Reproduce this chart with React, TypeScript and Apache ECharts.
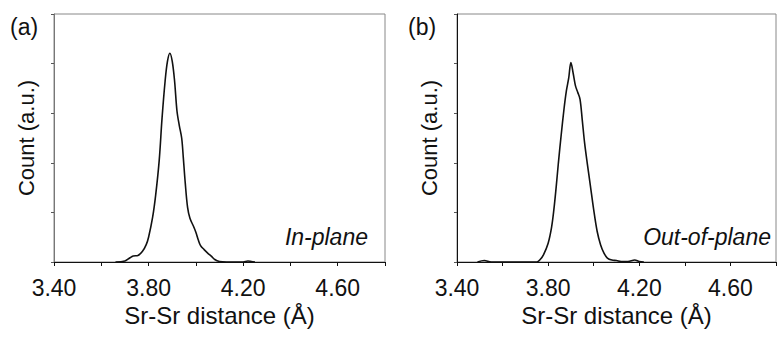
import React, { useEffect, useRef } from "react";
import * as echarts from "echarts";

// In-plane (a) distribution: Sr-Sr distance (Å) vs count (a.u.)
const inPlaneX = [3.66, 3.70, 3.72, 3.735, 3.755, 3.775, 3.79, 3.80, 3.817, 3.83, 3.845, 3.857, 3.87, 3.88, 3.89, 3.90, 3.91, 3.92, 3.93, 3.94, 3.947, 3.955, 3.965, 3.975, 3.99, 4.00, 4.01, 4.02, 4.035, 4.05, 4.065, 4.08, 4.10, 4.13, 4.20, 4.22, 4.235, 4.25];
const inPlaneY = [0, 0.02, 0.08, 0.12, 0.13, 0.22, 0.35, 0.5, 0.9, 1.35, 2.05, 2.9, 3.65, 4.05, 4.21, 4.05, 3.65, 3.05, 2.75, 2.5, 2.1, 1.6, 1.1, 0.88, 0.72, 0.6, 0.45, 0.33, 0.25, 0.18, 0.12, 0.05, 0.01, 0, 0, 0.02, 0.01, 0];

// Out-of-plane (b) distribution
const outPlaneX = [3.49, 3.52, 3.55, 3.75, 3.765, 3.78, 3.80, 3.815, 3.825, 3.835, 3.845, 3.857, 3.87, 3.88, 3.89, 3.90, 3.91, 3.92, 3.93, 3.94, 3.95, 3.96, 3.972, 3.985, 4.00, 4.015, 4.03, 4.045, 4.06, 4.08, 4.10, 4.12, 4.15, 4.18, 4.20, 4.22];
const outPlaneY = [0, 0.03, 0, 0, 0.05, 0.15, 0.38, 0.7, 1.05, 1.5, 2.0, 2.55, 3.1, 3.45, 3.7, 4.02, 3.8, 3.55, 3.42, 3.28, 2.85, 2.4, 1.98, 1.55, 1.05, 0.62, 0.35, 0.18, 0.08, 0.04, 0.03, 0.01, 0.01, 0.04, 0.01, 0];

const xTickLabels = ["3.40", "3.80", "4.20", "4.60"];
const panelLetters = ["(a)", "(b)"];
const panelNotes = ["In-plane", "Out-of-plane"];
const xTitle = "Sr-Sr distance (Å)";
const yTitle = "Count (a.u.)";

const FONT = "'Liberation Sans', Arial, sans-serif";

export default function App() {
  const ref = useRef<HTMLDivElement>(null);
  useEffect(() => {
    if (!ref.current) return;
    const chart = echarts.init(ref.current, undefined, { renderer: "svg" });
    const grids = [
      { left: 54, top: 14, width: 331, height: 248 },
      { left: 457, top: 14, width: 332, height: 248 },
    ];
    const xAxis = grids.map((_, i) => ({
      type: "value",
      gridIndex: i,
      min: 3.4,
      max: 4.8,
      interval: 0.2,
      name: xTitle,
      nameLocation: "middle",
      nameGap: 41,
      nameTextStyle: { fontFamily: FONT, fontSize: 24, color: "#111" },
      axisLine: { show: true, lineStyle: { color: "#111", width: 1 } },
      axisTick: { show: true, length: 4, lineStyle: { color: "#111" } },
      splitLine: { show: false },
      axisLabel: {
        margin: 14,
        fontFamily: FONT,
        fontSize: 23,
        color: "#111",
        formatter: (v: number) => {
          const s = v.toFixed(2);
          return xTickLabels.includes(s) ? s : "";
        },
      },
    }));
    const yAxis = grids.map((_, i) => ({
      type: "value",
      gridIndex: i,
      min: 0,
      max: 5,
      interval: 1,
      name: yTitle,
      nameLocation: "middle",
      nameGap: 17,
      nameTextStyle: { fontFamily: FONT, fontSize: 22, color: "#111" },
      axisLine: { show: true, lineStyle: { color: i === 0 ? "#777" : "#111", width: 1 } },
      axisTick: { show: true, length: 3, lineStyle: { color: "#555" } },
      splitLine: { show: false },
      axisLabel: { show: false },
    }));
    const series = [
      { x: inPlaneX, y: inPlaneY },
      { x: outPlaneX, y: outPlaneY },
    ].map((d, i) => ({
      type: "line",
      xAxisIndex: i,
      yAxisIndex: i,
      data: d.x.map((x, j) => [x, d.y[j]]),
      smooth: 0.35,
      showSymbol: false,
      lineStyle: { color: "#111", width: 1.6 },
    }));
    chart.setOption({
      animation: false,
      backgroundColor: "#fff",
      grid: grids.map((g) => ({ ...g, show: true, borderColor: "#888", borderWidth: 1, backgroundColor: "transparent" })),
      xAxis,
      yAxis,
      series,
      graphic: [
        { type: "text", left: 10, top: 15, style: { text: panelLetters[0], font: `23px ${FONT}`, fill: "#111" } },
        { type: "text", left: 408, top: 15, style: { text: panelLetters[1], font: `23px ${FONT}`, fill: "#111" } },
        { type: "text", x: 368, y: 237, style: { text: panelNotes[0], font: `italic 23px ${FONT}`, fill: "#111", textAlign: "right", textVerticalAlign: "middle" } },
        { type: "text", x: 771, y: 237, style: { text: panelNotes[1], font: `italic 23px ${FONT}`, fill: "#111", textAlign: "right", textVerticalAlign: "middle" } },
      ],
    });
    return () => chart.dispose();
  }, []);
  return <div ref={ref} style={{ width: 779, height: 337, position: "absolute", left: 0, top: 0 }} />;
}
